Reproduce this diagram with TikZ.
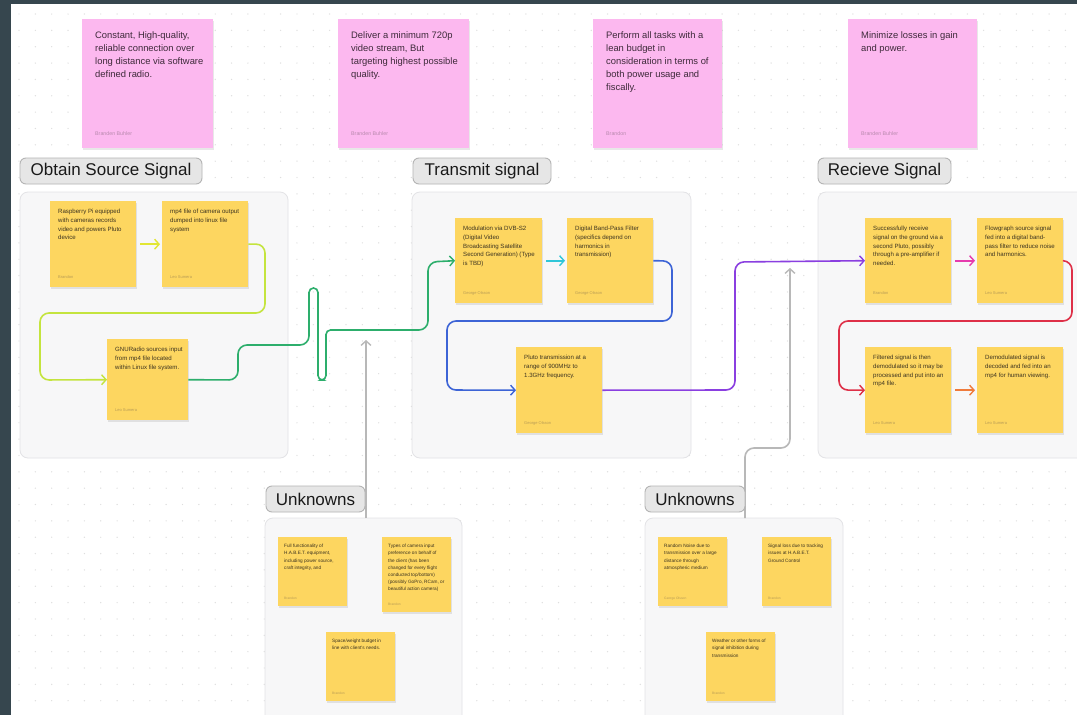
\documentclass[tikz,border=0pt]{standalone}
\usepackage{fontspec}
\setmainfont{Liberation Sans}
\usetikzlibrary{arrows.meta}
\definecolor{barc}{HTML}{36464E}
\definecolor{dotc}{HTML}{DEDEDE}
\definecolor{panelc}{HTML}{F7F7F8}
\definecolor{panelb}{HTML}{E3E3E6}
\definecolor{titlec}{HTML}{E6E6E6}
\definecolor{titleb}{HTML}{B4B4B4}
\definecolor{yellowc}{HTML}{FDD660}
\definecolor{pinkc}{HTML}{FCB8EF}
\definecolor{ytxt}{HTML}{3C3320}
\definecolor{ptxt}{HTML}{3E2A3A}
\definecolor{yauthc}{HTML}{B89C55}
\definecolor{pauthc}{HTML}{B98AAE}
\definecolor{cyel}{HTML}{E2E634}
\definecolor{cyg}{HTML}{C4E43E}
\definecolor{cgreen}{HTML}{2DAE6C}
\definecolor{ccyan}{HTML}{30C6D8}
\definecolor{cblue}{HTML}{3D64D6}
\definecolor{cpurple}{HTML}{8A3FE0}
\definecolor{cmag}{HTML}{E63BAE}
\definecolor{cred}{HTML}{DE3048}
\definecolor{corange}{HTML}{EF7B3C}
\definecolor{cgray}{HTML}{B8B8B8}
\tikzset{
  panel/.style={fill=panelc, draw=panelb, line width=0.8pt, rounded corners=8pt},
  titlebox/.style={fill=titlec, draw=titleb, line width=0.9pt, rounded corners=6pt,
    font=\fontsize{17}{20}\selectfont, text=black!90, inner sep=0pt},
  shadowbox/.style={fill=black, opacity=0.09},
  ynote/.style={fill=yellowc, draw=none, inner sep=0pt},
  unote/.style={fill=yellowc, draw=none, inner sep=0pt},
  pnote/.style={fill=pinkc, draw=none, inner sep=0pt},
  ytext/.style={font=\fontsize{6.1}{8.7}\selectfont, text=ytxt, align=left, inner sep=0pt, xshift=8pt, yshift=-8pt},
  utext/.style={font=\fontsize{4.7}{7.2}\selectfont, text=ytxt, align=left, inner sep=0pt, xshift=6pt, yshift=-7pt},
  ptext/.style={font=\fontsize{9.4}{13}\selectfont, text=ptxt, align=left, inner sep=0pt, xshift=13pt, yshift=-12pt},
  yauth/.style={font=\fontsize{4}{5}\selectfont, text=yauthc, inner sep=0pt, xshift=8pt, yshift=10pt},
  uauth/.style={font=\fontsize{3.3}{4}\selectfont, text=yauthc, inner sep=0pt, xshift=6pt, yshift=8pt},
  pauth/.style={font=\fontsize{5.3}{6}\selectfont, text=pauthc, inner sep=0pt, xshift=13pt, yshift=15pt},
  conn/.style={line width=1.6pt, rounded corners=9pt,
    -{Straight Barb[length=4.5pt,width=10pt,line width=1.4pt]}},
}
% #1 name, #2 kind, #3 x, #4 y, #5 w, #6 h, #7 text, #8 author
\newcommand\stickynote[8]{%
  \fill[shadowbox] (#3+0.5,#4+2) rectangle ++(#5,#6);
  \node[#2note, minimum width=#5pt, minimum height=#6pt, anchor=north west] (#1) at (#3,#4) {};
  \node[#2text, anchor=north west] (#1t) at (#1.north west) {#7};
  \node[#2auth, anchor=west] (#1a) at (#1.south west) {#8};
}
\begin{document}
\begin{tikzpicture}[x=1pt,y=-1pt]
\useasboundingbox (0,0) rectangle (1077,715);
\fill[white] (0,0) rectangle (1077,715);
% dot grid
\foreach \i in {0,...,65} {
  \foreach \j in {0,...,43} {
    \fill[dotc] (19+\i*16.35, 14+\j*16.35) circle (0.7);
  }
}
% dark frame
\fill[barc] (0,0) rectangle (1077,4);
\fill[barc] (0,0) rectangle (11,715);

% panels
\draw[panel] (20,192) rectangle (288,458);
\draw[panel] (412,192) rectangle (691,458);
\draw[panel] (818,192) rectangle (1095,458);
\draw[panel] (265,518) rectangle (462,730);
\draw[panel] (645,518) rectangle (843,730);
\coordinate (ulp) at (366,518);
\coordinate (urp) at (745,518);

% pink goal notes
\stickynote{p1}{p}{82}{19}{131}{129}{Constant, High-quality,\\reliable connection over\\long distance via software\\defined radio.}{Branden Buhler}
\stickynote{p2}{p}{338}{19}{131}{129}{Deliver a minimum 720p\\video stream, But\\targeting highest possible\\quality.}{Branden Buhler}
\stickynote{p3}{p}{593}{19}{129}{129}{Perform all tasks with a\\lean budget in\\consideration in terms of\\both power usage and\\fiscally.}{Brandon}
\stickynote{p4}{p}{848}{19}{129}{129}{Minimize losses in gain\\and power.}{Branden Buhler}

% obtain notes
\stickynote{o1}{y}{50}{201}{86}{86}{Raspberry Pi equipped\\with cameras records\\video and powers Pluto\\device}{Brandon}
\stickynote{o2}{y}{162}{201}{86}{86}{mp4 file of camera output\\dumped into linux file\\system}{Leo Sumera}
\stickynote{o3}{y}{107}{339}{81}{81}{GNURadio sources input\\from mp4 file located\\within Linux file system.}{Leo Sumera}

% transmit notes
\stickynote{t1}{y}{455}{218}{87}{85}{Modulation via DVB-S2\\(Digital Video\\Broadcasting Satellite\\Second Generation) (Type\\is TBD)}{George Olsson}
\stickynote{t2}{y}{567}{218}{86}{85}{Digital Band-Pass Filter\\(specifics depend on\\harmonics in\\transmission)}{George Olsson}
\stickynote{t3}{y}{516}{347}{86}{86}{Pluto transmission at a\\range of 900MHz to\\1.3GHz frequency.}{George Olsson}

% receive notes
\stickynote{r1}{y}{865}{218}{86}{85}{Successfully receive\\signal on the ground via a\\second Pluto, possibly\\through a pre-amplifier if\\needed.}{Brandon}
\stickynote{r2}{y}{977}{218}{86}{85}{Flowgraph source signal\\fed into a digital band-\\pass filter to reduce noise\\and harmonics.}{Leo Sumera}
\stickynote{r3}{y}{865}{347}{86}{86}{Filtered signal is then\\demodulated so it may be\\processed and put into an\\mp4 file.}{Leo Sumera}
\stickynote{r4}{y}{977}{347}{86}{86}{Demodulated signal is\\decoded and fed into an\\mp4 for human viewing.}{Leo Sumera}

% unknowns left
\stickynote{ul1}{u}{278}{537}{69}{69}{Full functionality of\\H.A.B.E.T. equipment,\\including power source,\\craft integrity, and}{Brandon}
\stickynote{ul2}{u}{382}{537}{69}{75}{Types of camera input\\preference on behalf of\\the client (has been\\changed for every flight\\conducted top/bottom)\\(possibly GoPro, RCam, or\\beautiful action camera)}{Brandon}
\stickynote{ul3}{u}{326}{632}{69}{69}{Space/weight budget in\\line with client's needs.}{Brandon}

% unknowns right
\stickynote{ur1}{u}{658}{537}{69}{69}{Random Noise due to\\transmission over a large\\distance through\\atmospheric medium}{George Olsson}
\stickynote{ur2}{u}{762}{537}{69}{69}{Signal loss due to tracking\\issues at H.A.B.E.T.\\Ground Control}{Brandon}
\stickynote{ur3}{u}{706}{632}{69}{69}{Weather or other forms of\\signal inhibition during\\transmission}{Brandon}

% connectors
\draw[conn, cyel, shorten <=4pt, shorten >=2pt] (o1.east) -- (o2.west);
\draw[conn, cyg] (o2.east) -- (265,244) -- (265,313) -- (40,313) -- (40,380) -- (o3.west);
\draw[conn, cgreen] (o3.east) -- (238,380) -- (238,345) -- (309,345) [rounded corners=4.5pt] -- (309,288) -- (318,288) -- (318,380) -- (326,380) -- (326,330) [rounded corners=9pt] -- (428,330) -- (428,262) -- (t1.west);
\draw[conn, ccyan, shorten <=4pt, shorten >=2pt] (t1.east) -- (t2.west);
\draw[conn, cblue] (t2.east) -- (672,261) -- (672,321) -- (447,321) -- (447,390) -- (t3.west);
\draw[conn, cpurple] (t3.east) -- (735,390) -- (735,262) -- (r1.west);
\draw[conn, cmag, shorten <=4pt, shorten >=2pt] (r1.east) -- (r2.west);
\draw[conn, cred] (r2.east) -- (1072,261) -- (1072,321) -- (839,321) -- (839,390) -- (r3.west);
\draw[conn, corange, shorten <=4pt, shorten >=2pt] (r3.east) -- (r4.west);
\coordinate (ulend) at (366,340);
\coordinate (urend) at (790,268);
\draw[conn, cgray] (ulp) -- (ulend);
\draw[conn, cgray] (urp) -- (745,448) -- (790,448) -- (urend);

% titles
\node[titlebox, minimum width=182pt, minimum height=26pt] (tobt) at (111,171) {Obtain Source Signal};
\node[titlebox, minimum width=138pt, minimum height=26pt] (ttx) at (482,171) {Transmit signal};
\node[titlebox, minimum width=133pt, minimum height=26pt] (trx) at (884.5,171) {Recieve Signal};
\node[titlebox, minimum width=99pt, minimum height=26pt] (tul) at (315.5,499) {Unknowns};
\node[titlebox, minimum width=100pt, minimum height=26pt] (tur) at (695,499) {Unknowns};
\end{tikzpicture}
\end{document}
